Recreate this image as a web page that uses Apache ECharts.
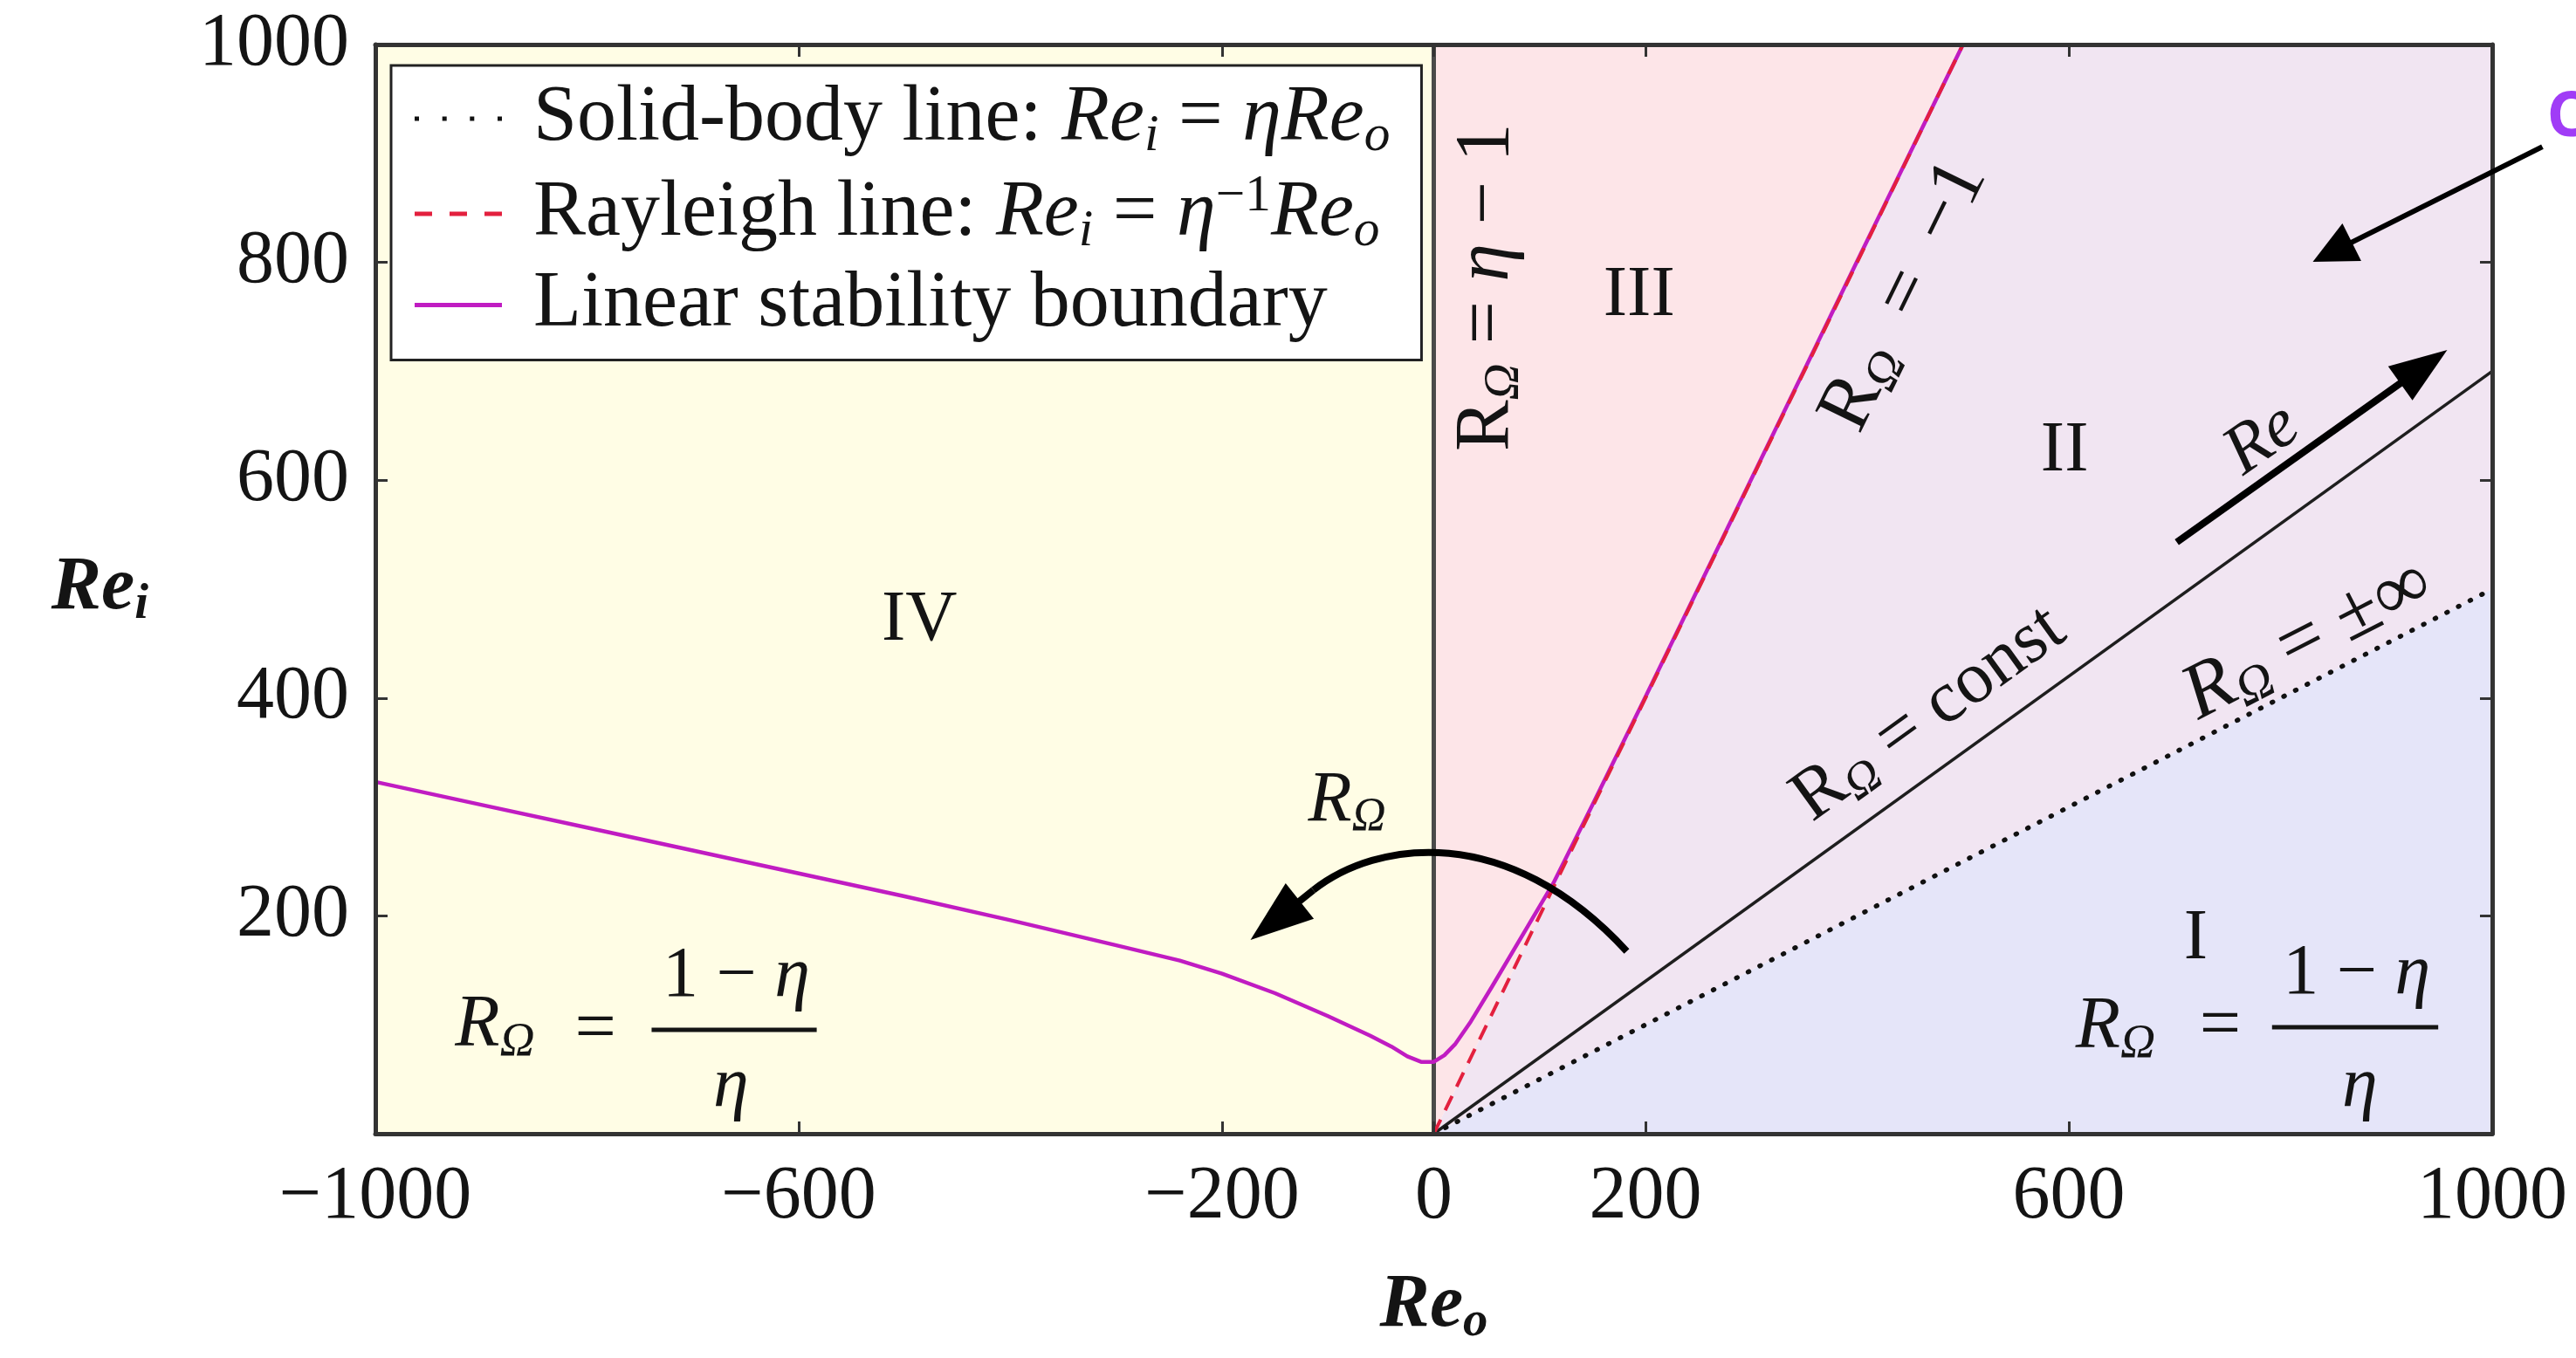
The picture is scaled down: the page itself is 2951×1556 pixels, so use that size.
<!DOCTYPE html>
<html>
<head>
<meta charset="utf-8">
<title>Taylor–Couette (Re_o, Re_i) parameter plane</title>
<script src="https://cdn.jsdelivr.net/npm/echarts@6/dist/echarts.min.js"></script>
<style>
  html, body { margin: 0; padding: 0; background: #ffffff; }
  #chart { width: 2951px; height: 1556px; }
</style>
</head>
<body>
<div id="chart"></div>
<script>
// ---- data (outer cylinder Reynolds number Re_o, inner cylinder Re_i) ----
const xTicks = [-1000, -600, -200, 0, 200, 600, 1000];
const yTicks = [200, 400, 600, 800, 1000];

// straight reference lines, given by their end points
const solidBodyLine = [[0, 0], [1000, 500]];     // Re_i = eta * Re_o
const rayleighLine  = [[0, 0], [500, 1000]];     // Re_i = Re_o / eta
const constRotLine  = [[0, 0], [1000, 700]];     // R_Omega = const
const zeroLine      = [[0, 0], [0, 1000]];       // Re_o = 0

// linear stability boundary
const stabRe_o = [-1000, -900, -800, -700, -600, -500, -400, -300, -240, -200, -150, -100,
                  -60, -40, -25, -12, 0, 10, 20, 35, 55, 80, 113, 150, 200, 300, 400, 500];
const stabRe_i = [323, 302, 281, 260, 239, 218, 196, 173, 159, 147, 129, 108,
                  90, 80, 71, 66, 66, 72, 82, 103, 135, 176, 230, 302, 401, 601, 801, 1000];

// shaded regimes, corners taken from the lines above
const regionIV  = [[-1000, 0], zeroLine[0], zeroLine[1], [-1000, 1000]];
const regionIII = [zeroLine[0], rayleighLine[1], zeroLine[1]];
const regionII  = [zeroLine[0], solidBodyLine[1], [1000, 1000], rayleighLine[1]];
const regionI   = [zeroLine[0], [1000, 0], solidBodyLine[1]];
const regions = [regionIV, regionIII, regionII, regionI];
const regionColors = ['#FFFDE5', '#FDE5E8', '#F1E5F2', '#E5E5F9'];

// ---- styling helpers ----
const serif = '"Liberation Serif", "Times New Roman", "DejaVu Serif", serif';
const ink = '#141414';
const minus = v => (v < 0 ? '\u2212' + Math.abs(v) : String(v));

function richMath(size) {
  return {
    n:  { fontFamily: serif, fontSize: size, fill: ink, color: ink, lineHeight: size * 1.1, verticalAlign: 'middle' },
    i:  { fontFamily: serif, fontSize: size, fontStyle: 'italic', fill: ink, color: ink, lineHeight: size * 1.1, verticalAlign: 'middle' },
    b:  { fontFamily: serif, fontSize: size, fontStyle: 'italic', fontWeight: 'bold', fill: ink, color: ink, lineHeight: size * 1.1, verticalAlign: 'middle' },
    s:  { fontFamily: serif, fontSize: size * 0.66, fontStyle: 'italic', fill: ink, color: ink, lineHeight: size * 0.56, verticalAlign: 'bottom' },
    bs: { fontFamily: serif, fontSize: size * 0.66, fontStyle: 'italic', fontWeight: 'bold', fill: ink, color: ink, lineHeight: size * 0.56, verticalAlign: 'bottom' },
    p:  { fontFamily: serif, fontSize: size * 0.66, fill: ink, color: ink, lineHeight: size * 0.5, verticalAlign: 'top' }
  };
}

const legendText = {
  'Solid-body line': '{n|Solid-body line: }{i|Re}{s|i}{n| = }{i|\u03B7Re}{s|o}',
  'Rayleigh line': '{n|Rayleigh line: }{i|Re}{s|i}{n| = }{i|\u03B7}{p|\u22121}{i|Re}{s|o}',
  'Linear stability boundary': '{n|Linear stability boundary}'
};

// legend keys: dots, dashes and a solid stroke
const iconDots   = 'path://M0,0h5v5h-5z M31.7,0h5v5h-5z M63.3,0h5v5h-5z M95,0h5v5h-5z';
const iconDashes = 'path://M0,0h20v5h-20z M40,0h20v5h-20z M80,0h20v5h-20z';
const iconSolid  = 'path://M0,0h100v5h-100z';

const frameAxisLine = { show: true, onZero: false, lineStyle: { color: '#333', width: 5 } };
const tickStyle = { color: '#333', width: 3 };

const chart = echarts.init(document.getElementById('chart'), null, { renderer: 'canvas' });

const option = {
  animation: false,
  backgroundColor: '#ffffff',
  grid: { left: 430, right: 96, top: 51, bottom: 257, containLabel: false },
  legend: {
    orient: 'vertical',
    left: 448, top: 75,
    padding: [16, 36, 18, 27],
    itemGap: 10,
    itemWidth: 100, itemHeight: 5,
    backgroundColor: '#ffffff',
    borderColor: '#222', borderWidth: 3,
    selectedMode: false,
    data: [
      { name: 'Solid-body line', icon: iconDots },
      { name: 'Rayleigh line', icon: iconDashes },
      { name: 'Linear stability boundary', icon: iconSolid }
    ],
    formatter: name => legendText[name],
    textStyle: { rich: richMath(90), padding: [0, 0, 0, 31] },
    z: 20
  },
  xAxis: [{
    type: 'value', min: -1000, max: 1000, interval: 200, position: 'bottom',
    axisLine: frameAxisLine,
    axisTick: { show: true, inside: true, length: 14, customValues: xTicks, lineStyle: tickStyle },
    axisLabel: { customValues: xTicks, formatter: v => (xTicks.includes(v) ? minus(v) : ''),
                 fontFamily: serif, fontSize: 86, color: ink, margin: 30 },
    splitLine: { show: false },
    name: '{b|Re}{bs|o}', nameLocation: 'middle', nameGap: 150,
    nameTextStyle: { rich: richMath(86) },
    z: 10
  }, {
    type: 'value', min: -1000, max: 1000, interval: 200, position: 'top',
    axisLine: frameAxisLine,
    axisTick: { show: true, inside: true, length: 14, customValues: xTicks, lineStyle: tickStyle },
    axisLabel: { show: false },
    splitLine: { show: false },
    z: 10
  }],
  yAxis: [{
    type: 'value', min: 0, max: 1000, interval: 200, position: 'left',
    axisLine: frameAxisLine,
    axisTick: { show: true, inside: true, length: 14, customValues: yTicks, lineStyle: tickStyle },
    axisLabel: { customValues: yTicks, formatter: v => (yTicks.includes(v) ? String(v) : ''),
                 fontFamily: serif, fontSize: 86, color: ink, margin: 30 },
    splitLine: { show: false },
    name: '{b|Re}{bs|i}', nameLocation: 'middle', nameRotate: 0, nameGap: 260,
    nameTextStyle: { rich: richMath(86) },
    z: 10
  }, {
    type: 'value', min: 0, max: 1000, interval: 200, position: 'right',
    axisLine: frameAxisLine,
    axisTick: { show: true, inside: true, length: 14, customValues: yTicks, lineStyle: tickStyle },
    axisLabel: { show: false },
    splitLine: { show: false },
    z: 10
  }],
  series: [
    {
      name: 'regimes', type: 'custom', silent: true, z: 1, clip: true,
      data: regions.map((r, k) => [r[0][0], r[0][1], k]),
      renderItem: (params, api) => ({
        type: 'polygon',
        shape: { points: regions[params.dataIndex].map(p => api.coord(p)) },
        style: { fill: regionColors[params.dataIndex] }
      })
    },
    {
      name: 'Re_o = 0', type: 'line', data: zeroLine, symbol: 'none', silent: true, z: 3,
      lineStyle: { color: '#4a4a4a', width: 5 }
    },
    {
      name: 'R_Omega = const', type: 'line', data: constRotLine, symbol: 'none', silent: true, z: 3,
      lineStyle: { color: '#1e1e1e', width: 3.5 }
    },
    {
      name: 'Solid-body line', type: 'line', data: solidBodyLine, symbol: 'none', silent: true, z: 4,
      itemStyle: { color: '#111' },
      lineStyle: { color: '#111', width: 5.5, type: [1, 14], cap: 'round' }
    },
    {
      name: 'Linear stability boundary', type: 'line', symbol: 'none', silent: true, z: 5,
      data: stabRe_o.map((x, k) => [x, stabRe_i[k]]),
      smooth: false,
      itemStyle: { color: '#C01CC2' },
      lineStyle: { color: '#C01CC2', width: 4.5, join: 'round' }
    },
    {
      name: 'Rayleigh line', type: 'line', data: rayleighLine, symbol: 'none', silent: true, z: 6,
      itemStyle: { color: '#E3203E' },
      lineStyle: { color: '#E3203E', width: 4, type: [18, 12] }
    }
  ]
};

chart.setOption(option);

// ---- annotations, anchored in axis units ----
function buildAnnotations() {
  const P = p => chart.convertToPixel({ xAxisIndex: 0, yAxisIndex: 0 }, p);
  const deg = Math.PI / 180;
  const g = [];

  const text = (pos, str, size, rot, align) => {
    const [x, y] = P(pos);
    g.push({
      type: 'text', x, y, rotation: (rot || 0) * deg, z: 50, silent: true,
      style: { text: str, rich: richMath(size), fontFamily: serif, fontSize: size, fill: ink,
               align: align || 'center', verticalAlign: 'middle' }
    });
  };

  const arrow = (from, to, width, headLen, headHalf) => {
    const dx = to[0] - from[0], dy = to[1] - from[1];
    const L = Math.hypot(dx, dy), ux = dx / L, uy = dy / L;
    const bx = to[0] - ux * headLen, by = to[1] - uy * headLen;
    g.push({ type: 'line', z: 50, silent: true,
             shape: { x1: from[0], y1: from[1], x2: bx + ux * 4, y2: by + uy * 4 },
             style: { stroke: '#000', lineWidth: width } });
    g.push({ type: 'polygon', z: 50, silent: true,
             shape: { points: [to, [bx - uy * headHalf, by + ux * headHalf], [bx + uy * headHalf, by - ux * headHalf]] },
             style: { fill: '#000' } });
  };

  const bar = (x1, x2, y) => {
    const a = P([x1, y]), b = P([x2, y]);
    g.push({ type: 'line', z: 50, silent: true,
             shape: { x1: a[0], y1: a[1], x2: b[0], y2: b[1] },
             style: { stroke: ink, lineWidth: 5 } });
  };

  // regime numerals
  text([-486, 471], '{n|IV}', 82);
  text([194, 769], '{n|III}', 82);
  text([596, 626], '{n|II}', 82);
  text([720, 178], '{n|I}', 82);

  // labels along the boundaries
  text([51, 777], '{n|R}{s|\u03A9}{n| = }{i|\u03B7}{n| \u2212 1}', 88, 90);
  text([445, 769], '{n|R}{s|\u03A9}{n|  =  \u22121}', 88, 64);
  text([468, 385], '{n|R}{s|\u03A9}{n| = const}', 84, 35.8);
  text([826, 453], '{i|R}{s|\u03A9}{n| = \u00B1\u221E}', 90, 27.2);
  text([783, 637], '{i|Re}', 80, 35);

  // direction of increasing Re
  arrow(P([702, 543]), P([957.5, 719.6]), 8, 66, 24);

  // rotation-number sweep
  text([-82, 305], '{i|R}{s|\u03A9}', 82);
  const c0 = P([182.3, 167.5]), c1 = P([69.3, 286.9]), c2 = P([-54.4, 269.2]), c3 = P([-113.8, 223.6]);
  g.push({ type: 'bezierCurve', z: 50, silent: true,
           shape: { x1: c0[0], y1: c0[1], cpx1: c1[0], cpy1: c1[1], cpx2: c2[0], cpy2: c2[1], x2: c3[0], y2: c3[1] },
           style: { stroke: '#000', lineWidth: 8, fill: null } });
  arrow(c3, P([-173.2, 177.9]), 8, 72, 26);

  // quasi-Keplerian rotation number, left and right
  text([-887, 99], '{i|R}{s|\u03A9}', 84);
  text([-792, 94], '{n|=}', 84);
  text([-659, 144], '{n|1 \u2212 }{i|\u03B7}', 82);
  bar(-739, -583, 95.4);
  text([-664, 43], '{i|\u03B7}', 82);

  text([644, 97], '{i|R}{s|\u03A9}', 84);
  text([743, 97], '{n|=}', 84);
  text([872, 146], '{n|1 \u2212 }{i|\u03B7}', 82);
  bar(792, 949, 97.8);
  text([875, 43], '{i|\u03B7}', 82);

  // call-out on the right
  const cPos = P([1051.5, 932.7]);
  g.push({ type: 'text', x: cPos[0], y: cPos[1], z: 50, silent: true,
           style: { text: 'C', fontFamily: '"Open Sans", "Noto Sans", sans-serif', fontWeight: 'bold',
                    fontSize: 72, fill: '#A03CF6', align: 'left', verticalAlign: 'middle' } });
  arrow(P([1047.4, 906.2]), P([830.5, 800.5]), 6, 50, 24);

  chart.setOption({ graphic: g });
}

buildAnnotations();
</script>
</body>
</html>
